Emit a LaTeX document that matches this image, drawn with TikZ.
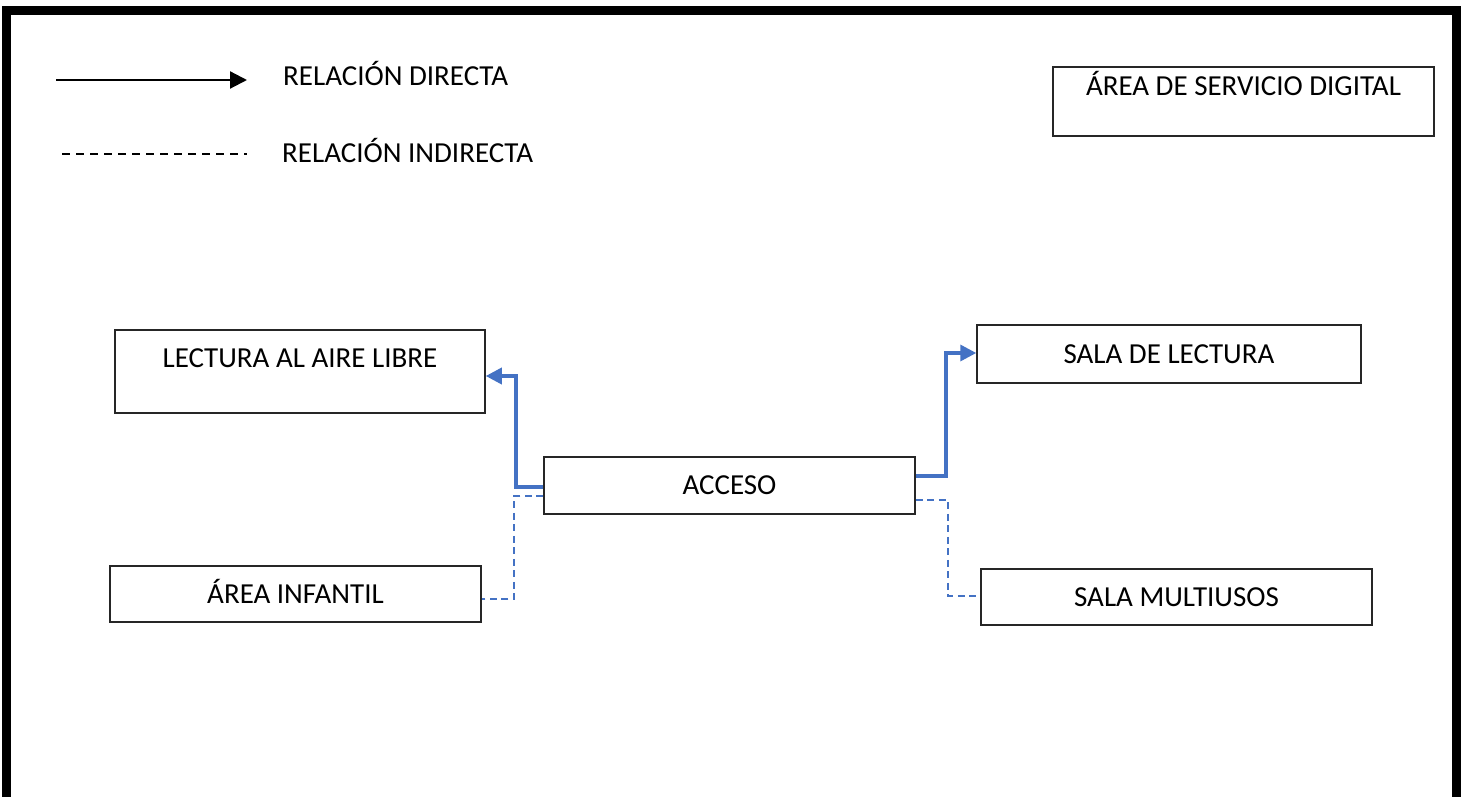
\documentclass[tikz,border=0pt]{standalone}
\usepackage{fontspec}
\setmainfont{Carlito}
\usetikzlibrary{arrows.meta}
\definecolor{lnblue}{HTML}{4472C4}
\tikzset{
  roombox/.style={draw=black!85, line width=1.5pt, fill=white, inner sep=0pt,
    font=\fontsize{29}{33}\selectfont, text height=18.7pt, text depth=0pt},
  direct/.style={draw=lnblue, line width=3.4pt, -{Triangle[length=16pt,width=16pt]}},
  indirect/.style={draw=lnblue, line width=2.2pt, dash pattern=on 7pt off 4.5pt},
  legtext/.style={anchor=base west, inner sep=0pt, font=\fontsize{29}{33}\selectfont},
}
\begin{document}
\begin{tikzpicture}[x=1pt,y=-1pt]
\useasboundingbox (0,0) rectangle (1470,797);
\fill[white] (0,0) rectangle (1470,797);
% frame
\draw[line width=9pt, line join=miter] (6.5,797) -- (6.5,10.5) -- (1456,10.5) -- (1456,797);

% legend
\coordinate (la) at (56,80);
\coordinate (lb) at (247,80);
\draw[line width=2.2pt, -{Triangle[length=17pt,width=17pt]}] (la) -- (lb);
\node[legtext] (ldir) at (283,86) {RELACIÓN DIRECTA};
\coordinate (lc) at (62,154);
\coordinate (ld) at (247,154);
\draw[line width=2.2pt, dash pattern=on 8pt off 6pt] (lc) -- (ld);
\node[legtext] (lind) at (282,162) {RELACIÓN INDIRECTA};

% boxes
\node[roombox, minimum width=381pt, minimum height=69pt, text depth=31pt] (serv) at (1243.5,101.5) {ÁREA DE SERVICIO DIGITAL};
\node[roombox, minimum width=370pt, minimum height=83pt, text depth=27pt] (lect) at (300,371.5) {LECTURA AL AIRE LIBRE};
\node[roombox, minimum width=371pt, minimum height=56pt] (inf) at (295.5,594) {ÁREA INFANTIL};
\node[roombox, minimum width=371pt, minimum height=57pt] (acc) at (729.5,485.5) {ACCESO};
\node[roombox, minimum width=384pt, minimum height=58pt] (slect) at (1169,354) {SALA DE LECTURA};
\node[roombox, minimum width=391pt, minimum height=56pt] (multi) at (1176.5,597) {SALA MULTIUSOS};

% connectors
\draw[direct] (acc.west |- 0,487) -- (516,487) -- (516,376) -- (lect.east |- 0,376);
\draw[direct] (acc.east |- 0,476) -- (946,476) -- (946,353) -- (slect.west |- 0,353);
\draw[indirect] (acc.west |- 0,496) -- (514,496) -- (514,599) -- (inf.east |- 0,599);
\draw[indirect] (acc.east |- 0,500) -- (948,500) -- (948,596) -- (multi.west |- 0,596);
\end{tikzpicture}
\end{document}
